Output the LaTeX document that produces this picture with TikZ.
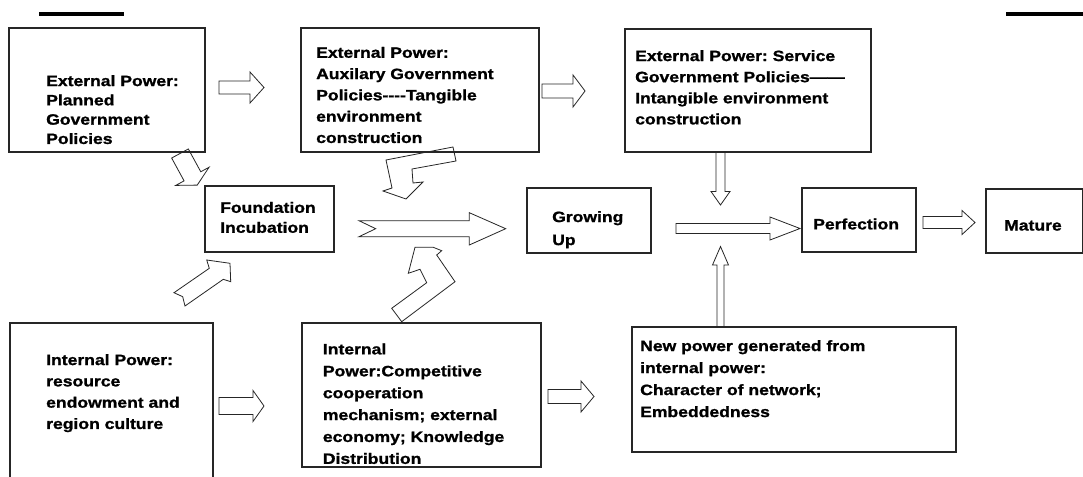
\documentclass[tikz,border=0pt]{standalone}
\usepackage{fontspec}
\setmainfont{Liberation Sans}[FakeStretch=1.17, BoldFeatures={FakeBold=1.2}]
\frenchspacing
\usetikzlibrary{calc}
\tikzset{
  box/.style={draw=black!85, line width=1.1pt, inner sep=0pt},
  txt/.style={anchor=north west, inner sep=0pt, align=left,
    font=\bfseries\fontsize{15}{#1}\selectfont\frenchspacing},
  txt/.default=21.3,
  arr/.style={draw=black!85, line width=0.8pt, line join=miter},
  rule/.style={line width=4.5pt, black},
}
% block arrow: tail, tip, body half width, head half width, head length
\newcommand\barrow[5]{%
  \coordinate (ba) at #1; \coordinate (bb) at #2;
  \coordinate (bc) at ($(bb)!#5pt!(ba)$);
  \draw[arr] ($(ba)!#3pt!90:(bb)$) -- ($(bc)!#3pt!90:(bb)$) -- ($(bc)!#4pt!90:(bb)$)
    -- (bb) -- ($(bc)!#4pt!-90:(bb)$) -- ($(bc)!#3pt!-90:(bb)$) -- ($(ba)!#3pt!-90:(bb)$) -- cycle;}
\begin{document}
\begin{tikzpicture}[x=1pt, y=-1pt]
\useasboundingbox (0,0) rectangle (1083,476);
\fill[white] (0,0) rectangle (1083,476);

% top rules
\coordinate (r1a) at (39,14); \coordinate (r1b) at (124,14);
\coordinate (r2a) at (1006,14); \coordinate (r2b) at (1083,14);
\draw[rule] (r1a) -- (r1b);
\draw[rule] (r2a) -- (r2b);

% boxes
\node[box, minimum width=196pt, minimum height=124pt] (planned) at (107,90) {};
\node[box, minimum width=238pt, minimum height=124pt] (aux) at (420,90) {};
\node[box, minimum width=246pt, minimum height=123pt] (service) at (748,90.5) {};
\node[box, minimum width=129pt, minimum height=66pt] (found) at (269.5,219) {};
\node[box, minimum width=124pt, minimum height=65pt] (grow) at (589,220.5) {};
\node[box, minimum width=114pt, minimum height=64pt] (perf) at (859,220) {};
\node[box, minimum width=96.5pt, minimum height=64pt] (mature) at (1034.25,221) {};
\node[box, minimum width=203pt, minimum height=167pt] (resource) at (111.5,406.5) {};
\node[box, minimum width=239pt, minimum height=144pt] (comp) at (421.5,395) {};
\node[box, minimum width=324pt, minimum height=125pt] (newp) at (794,389.5) {};

% texts
\node[txt=19.3] (tplanned) at (46,75) {External Power:\\Planned\\Government\\Policies};
\node[txt=21.3] (taux) at (316,46.7) {External Power:\\Auxilary Government\\Policies-{}-{}-{}-Tangible\\environment\\construction};
\node[txt=21.1] (tservice) at (635,50) {External Power: Service\\Government Policies——\\Intangible environment\\construction};
\node[txt=20] (tfound) at (220,201.7) {Foundation\\Incubation};
\node[txt=23] (tgrow) at (552,211) {Growing\\Up};
\node[txt] (tperf) at (813,218.3) {Perfection};
\node[txt] (tmature) at (1004,220) {Mature};
\node[txt=21.3] (tres) at (46,354) {Internal Power:\\resource\\endowment and\\region culture};
\node[txt=21.9] (tcomp) at (322.7,343.3) {Internal\\Power:Competitive\\cooperation\\mechanism; external\\economy; Knowledge\\Distribution};
\node[txt=22] (tnewp) at (640,340) {New power generated from\\internal power:\\Character of network;\\Embeddedness};

% straight block arrows
\barrow{(219,87.5)}{(264,87.5)}{6.5}{15.5}{14}
\barrow{(542,91)}{(585,91)}{7}{16}{12}
\barrow{(720.5,152)}{(720.5,205)}{4.5}{9.5}{13.5}
\barrow{(676,228.5)}{(800,228.5)}{5}{11.5}{30}
\barrow{(923,222.5)}{(975,222.5)}{6}{12}{13}
\barrow{(720.5,327)}{(720.5,246.5)}{3.5}{8}{18.5}
\barrow{(180,153.5)}{(197.2,185.1)}{9.5}{19}{10}
\barrow{(219,406)}{(264,406)}{8.5}{15.5}{11}
\barrow{(548,396.5)}{(594,396.5)}{7}{15.5}{13}

% notched arrow foundation -> growing
\draw[arr] (359,220.7) -- (469.3,220.7) -- (469.3,212.7) -- (505.7,228.7) -- (469.3,245)
  -- (469.3,236.7) -- (359,236.7) -- (375.7,228.7) -- cycle;
% bent arrow auxiliary -> foundation
\draw[arr] (386,160) -- (453,147) -- (456,161) -- (412,169) -- (413,183) -- (423,182)
  -- (406,199) -- (383,191) -- (392,188) -- cycle;
% arrow resource -> foundation
\draw[arr] (174,292.7) -- (209.3,268.3) -- (206.7,260) -- (230,263.3) -- (230.7,281.7)
  -- (223.3,279.3) -- (185,306) -- (182.7,296.7) -- cycle;
% bent arrow competitive -> up
\draw[arr] (401.7,321.7) -- (455,281.7) -- (436.7,255) -- (441.7,250.7) -- (433.3,247.3)
  -- (415,247.3) -- (408.3,273.3) -- (420,269.3) -- (426.7,282.7) -- (391.7,308.3) -- cycle;
\end{tikzpicture}
\end{document}
